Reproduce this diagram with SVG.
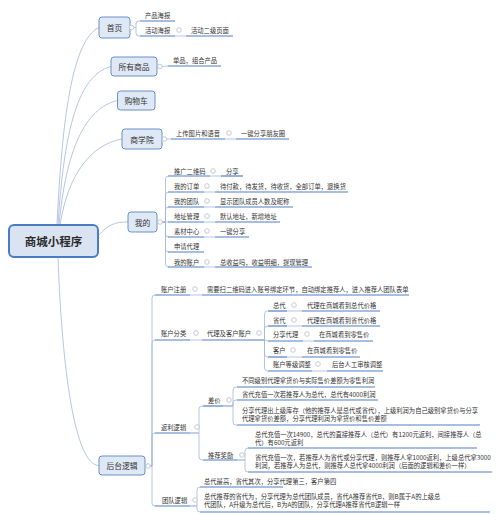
<svg xmlns="http://www.w3.org/2000/svg" width="500" height="514" viewBox="0 0 500 514">
<style>
text{font-family:"Noto Sans CJK SC","Noto Sans",sans-serif;fill:#333;dominant-baseline:central}
.t{font-size:6.3px}
.n{font-size:7.8px;text-anchor:middle}
.m{font-size:11.5px;font-weight:bold;text-anchor:middle;fill:#2b2b2b}
.ul{stroke:#4f7fc4;stroke-width:1.2;fill:none}
.c{fill:none;stroke:#a3b6dc;stroke-width:0.8}
.k{fill:#fff;stroke:#b5bdcc;stroke-width:0.8}
.box{fill:#dfe8f5;stroke:#6a8fca;stroke-width:1}
.main{fill:#d9e3f2;stroke:#4a7cc4;stroke-width:2}
</style>
<rect width="500" height="514" fill="#fff"/>
<g id="connectors" class="c">
<path d="M57 225C62 120 72 40 99 27.5"/>
<path d="M58 225C64 130 78 75 111 66.5"/>
<path d="M59 225C66 150 85 108 117.5 100.5"/>
<path d="M60 225C68 175 90 145 122 139"/>
<path d="M98 236C108 224 116 222 128 222"/>
<path d="M58 257C62 370 75 465.5 99 465.5"/>
<path d="M134 27.5H136V24Q136 21 139 21H140"/>
<path d="M134 27.5H136V33Q136 36 139 36H140"/>
<path d="M175 36H186"/>
<path d="M162.5 66.5L168 66"/>
<path d="M166.5 139H171"/>
<path d="M225 139H236"/>
<path d="M162.5 222H165.5V179Q165.5 176 168.5 176"/>
<path d="M162.5 222H165.5V195Q165.5 192 168.5 192"/>
<path d="M162.5 222H165.5V210Q165.5 207 168.5 207"/>
<path d="M162.5 222H168.5"/>
<path d="M162.5 222H165.5V234Q165.5 237 168.5 237"/>
<path d="M162.5 222H165.5V249Q165.5 252 168.5 252"/>
<path d="M162.5 222H165.5V264Q165.5 267 168.5 267"/>
<path d="M210 176H221"/>
<path d="M204 192H215"/>
<path d="M204 207H215"/>
<path d="M204 222H215"/>
<path d="M204 237H215"/>
<path d="M204 267H215"/>
<path d="M150.5 466H152V298Q152 295 155 295"/>
<path d="M150.5 466H152V343Q152 340 155 340"/>
<path d="M150.5 466H152V436Q152 433 155 433"/>
<path d="M150.5 466H152V503Q152 506 155 506"/>
<path d="M190 295H202"/>
<path d="M190 340H202"/>
<path d="M255 340H264.5V314Q264.5 311 267.5 311H268"/>
<path d="M255 340H264.5V329Q264.5 326 267.5 326H268"/>
<path d="M255 340H264.5L268 341"/>
<path d="M255 340H264.5V354Q264.5 357 267.5 357H268"/>
<path d="M255 340H264.5V368Q264.5 371 267.5 371H268"/>
<path d="M287 311H302"/>
<path d="M287 326H302"/>
<path d="M303 341H314"/>
<path d="M287 357H302"/>
<path d="M312 371H327"/>
<path d="M190 433H199V409Q199 406 202 406H203"/>
<path d="M190 433H199V457Q199 460 202 460H203"/>
<path d="M223 406H233V390Q233 387 236 387H237"/>
<path d="M223 406H233V403Q233 400 236 400H237"/>
<path d="M223 406H233V422Q233 425 236 425H237"/>
<path d="M237 460H245V451Q245 448 248 448"/>
<path d="M237 460H245V469Q245 472 248 472"/>
<path d="M190 506H197V490Q197 487 200 487"/>
<path d="M190 506H197V509Q197 512 200 512"/>
</g>
<g id="n-root"><rect class="main" x="9" y="225" width="89" height="32" rx="5"/><text class="m" x="53.5" y="241">商城小程序</text></g>
<g id="n-shouye"><rect class="box" x="99" y="17" width="31" height="21" rx="3"/><text class="n" x="114.5" y="27.5">首页</text><circle class="k" cx="131.5" cy="27.5" r="2.3"/></g>
<g id="n-chanpin"><text class="t" x="145" y="15">产品海报</text><path class="ul" d="M140 21H175"/></g>
<g id="n-huodong"><text class="t" x="145" y="30">活动海报</text><path class="ul" d="M140 36H175"/><circle class="k" cx="179" cy="30" r="2.3"/></g>
<g id="n-huodong2"><text class="t" x="191" y="30">活动二级页面</text><path class="ul" d="M186 36H233"/></g>
<g id="n-suoyou"><rect class="box" x="111" y="57" width="46" height="19" rx="3"/><text class="n" x="134" y="66.5">所有商品</text><circle class="k" cx="160" cy="66.5" r="2.3"/></g>
<g id="n-danpin"><text class="t" x="173" y="60">单品，组合产品</text><path class="ul" d="M168 66H221"/></g>
<g id="n-gouwu"><rect class="box" x="117.5" y="91" width="37.5" height="19" rx="3"/><text class="n" x="136.2" y="100.5">购物车</text></g>
<g id="n-shangxue"><rect class="box" x="122" y="129" width="40" height="20" rx="3"/><text class="n" x="142" y="139">商学院</text><circle class="k" cx="164.5" cy="139" r="2.3"/></g>
<g id="n-upload"><text class="t" x="176" y="133">上传图片和语音</text><path class="ul" d="M171 139H225"/><circle class="k" cx="229" cy="133" r="2.3"/></g>
<g id="n-pyq"><text class="t" x="241" y="133">一键分享朋友圈</text><path class="ul" d="M236 139H289"/></g>
<g id="n-wode"><rect class="box" x="128" y="212" width="29" height="20" rx="3"/><text class="n" x="142.5" y="222">我的</text><circle class="k" cx="160" cy="222" r="2.3"/></g>
<g id="n-tuiguang"><text class="t" x="174" y="171">推广二维码</text><path class="ul" d="M168 176H210"/><circle class="k" cx="213" cy="171" r="2.3"/></g>
<g id="n-fenxiang"><text class="t" x="226" y="171">分享</text><path class="ul" d="M221 176H243"/></g>
<g id="n-dingdan"><text class="t" x="174" y="186">我的订单</text><path class="ul" d="M168 192H204"/><circle class="k" cx="207" cy="186" r="2.3"/></g>
<g id="n-dingdan2"><text class="t" x="220" y="186">待付款，待发货，待收货，全部订单，退换货</text><path class="ul" d="M215 192H348"/></g>
<g id="n-tuandui"><text class="t" x="174" y="201">我的团队</text><path class="ul" d="M168 207H204"/><circle class="k" cx="207" cy="201" r="2.3"/></g>
<g id="n-tuandui2"><text class="t" x="220" y="201">显示团队成员人数及昵称</text><path class="ul" d="M215 207H293"/></g>
<g id="n-dizhi"><text class="t" x="174" y="216">地址管理</text><path class="ul" d="M168 222H204"/><circle class="k" cx="207" cy="216" r="2.3"/></g>
<g id="n-dizhi2"><text class="t" x="220" y="216">默认地址，新增地址</text><path class="ul" d="M215 222H280"/></g>
<g id="n-sucai"><text class="t" x="174" y="231">素材中心</text><path class="ul" d="M168 237H204"/><circle class="k" cx="207" cy="231" r="2.3"/></g>
<g id="n-sucai2"><text class="t" x="220" y="231">一键分享</text><path class="ul" d="M215 237H249"/></g>
<g id="n-shenqing"><text class="t" x="174" y="246">申请代理</text><path class="ul" d="M168 252H204"/></g>
<g id="n-zhanghu"><text class="t" x="174" y="262">我的账户</text><path class="ul" d="M168 267H204"/><circle class="k" cx="207" cy="262" r="2.3"/></g>
<g id="n-zhanghu2"><text class="t" x="220" y="262">总收益吗，收益明细，提现管理</text><path class="ul" d="M215 267H312"/></g>
<g id="n-houtai"><rect class="box" x="99" y="456" width="46" height="19" rx="3"/><text class="n" x="122" y="465.5">后台逻辑</text><circle class="k" cx="148" cy="466" r="2.3"/></g>
<g id="n-zhuce"><text class="t" x="161" y="289">账户注册</text><path class="ul" d="M155 295H190"/><circle class="k" cx="195" cy="289" r="2.3"/></g>
<g id="n-zhuce2"><text class="t" x="207" y="289">需要扫二维码进入账号绑定环节，自动绑定推荐人，进入推荐人团队表单</text><path class="ul" d="M202 295H409"/></g>
<g id="n-fenlei"><text class="t" x="161" y="333">账户分类</text><path class="ul" d="M155 340H190"/><circle class="k" cx="196" cy="333" r="2.3"/></g>
<g id="n-daili"><text class="t" x="207" y="333">代理及客户账户</text><path class="ul" d="M202 340H255"/><circle class="k" cx="259" cy="333" r="2.3"/></g>
<g id="n-zongdai"><text class="t" x="273" y="305">总代</text><path class="ul" d="M268 311H287"/><circle class="k" cx="294" cy="305" r="2.3"/></g>
<g id="n-zongdai2"><text class="t" x="307" y="305">代理在商城看到总代价格</text><path class="ul" d="M302 311H380"/></g>
<g id="n-shengdai"><text class="t" x="273" y="320">省代</text><path class="ul" d="M268 326H287"/><circle class="k" cx="294" cy="320" r="2.3"/></g>
<g id="n-shengdai2"><text class="t" x="307" y="320">代理在商城看到省代价格</text><path class="ul" d="M302 326H380"/></g>
<g id="n-fxdl"><text class="t" x="273" y="334">分享代理</text><path class="ul" d="M268 341H303"/><circle class="k" cx="307" cy="334" r="2.3"/></g>
<g id="n-fxdl2"><text class="t" x="319" y="334">在商城看到零售价</text><path class="ul" d="M314 341H373"/></g>
<g id="n-kehu"><text class="t" x="273" y="350">客户</text><path class="ul" d="M268 357H287"/><circle class="k" cx="293" cy="350" r="2.3"/></g>
<g id="n-kehu2"><text class="t" x="307" y="350">在商城看到零售价</text><path class="ul" d="M302 357H360"/></g>
<g id="n-dengji"><text class="t" x="273" y="364">账户等级调整</text><path class="ul" d="M268 371H312"/><circle class="k" cx="318" cy="364" r="2.3"/></g>
<g id="n-dengji2"><text class="t" x="332" y="364">后台人工审核调整</text><path class="ul" d="M327 371H383"/></g>
<g id="n-fanli"><text class="t" x="161" y="427">返利逻辑</text><path class="ul" d="M155 433H190"/><circle class="k" cx="197" cy="427" r="2.3"/></g>
<g id="n-chajia"><text class="t" x="208" y="400">差价</text><path class="ul" d="M203 406H223"/><circle class="k" cx="229" cy="400" r="2.3"/></g>
<g id="n-cj1"><text class="t" x="242" y="380">不同级别代理拿货价与实际售价差额为零售利润</text><path class="ul" d="M237 387H375"/></g>
<g id="n-cj2"><text class="t" x="242" y="394">省代充值一次若推荐人为总代，总代有4000利润</text><path class="ul" d="M237 400H378"/></g>
<g id="n-cj3"><text class="t" x="242" y="410">分享代理出上级库存（他的推荐人是总代或省代），上级利润为自己级别拿货价与分享</text><text class="t" x="242" y="418.5">代理拿货价差额，分享代理利润为拿货价和售价差额</text><path class="ul" d="M237 425H480"/></g>
<g id="n-tuijian"><text class="t" x="208" y="455">推荐奖励</text><path class="ul" d="M203 460H237"/><circle class="k" cx="242" cy="455" r="2.3"/></g>
<g id="n-tj1"><text class="t" x="255" y="434">总代充值一次14900，总代的直接推荐人（总代）有1200元返利，间接推荐人（总</text><text class="t" x="255" y="442.5">代）有600元返利</text><path class="ul" d="M248 448H477"/></g>
<g id="n-tj2"><text class="t" x="255" y="457">省代充值一次，若推荐人为省代或分享代理，则推荐人拿1000返利，上级总代拿3000</text><text class="t" x="255" y="465.5">利润，若推荐人为总代，则推荐人总代拿4000利润（后面的逻辑和差价一样）</text><path class="ul" d="M248 472H492"/></g>
<g id="n-tuanduiluoji"><text class="t" x="162" y="500">团队逻辑</text><path class="ul" d="M155 506H190"/><circle class="k" cx="195" cy="500" r="2.3"/></g>
<g id="n-td1"><text class="t" x="204" y="481">总代最高，省代其次，分享代理第三，客户第四</text><path class="ul" d="M200 487H283"/></g>
<g id="n-td2"><text class="t" x="204" y="496">总代推荐的省代为，分享代理为总代团队成员，省代A推荐省代B，则B属于A的上级总</text><text class="t" x="204" y="504.5">代团队，A升级为总代后，B为A的团队，分享代理A推荐省代B逻辑一样</text><path class="ul" d="M200 512H490"/></g>
</svg>
